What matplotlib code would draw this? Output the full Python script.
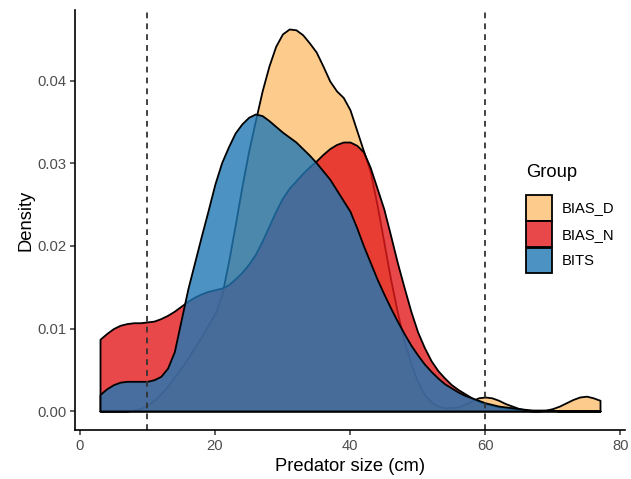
import numpy as np
import matplotlib.pyplot as plt
from matplotlib.patches import Patch
from matplotlib.colors import to_rgba

plt.rcParams['font.family'] = ['Liberation Sans', 'DejaVu Sans']

# predator size grid (cm) and densities
size_cm = list(range(3, 78))

bias_d = [0.0000, 0.0000, 0.0000, 0.0000, 0.0000, 0.0001, 0.0003, 0.0007, 0.0013, 0.0021,
          0.0030, 0.0041, 0.0052, 0.0064, 0.0077, 0.0090, 0.0104, 0.0118, 0.0140, 0.0180,
          0.0225, 0.0272, 0.0315, 0.0352, 0.0388, 0.0418, 0.0442, 0.0457, 0.0463, 0.0462,
          0.0456, 0.0446, 0.0435, 0.0418, 0.0400, 0.0388, 0.0380, 0.0365, 0.0340, 0.0315,
          0.0290, 0.0250, 0.0205, 0.0160, 0.0120, 0.0085, 0.0058, 0.0036, 0.0020, 0.0011,
          0.0006, 0.0004, 0.0004, 0.0005, 0.0008, 0.0012, 0.0016, 0.0017, 0.0016, 0.0013,
          0.0009, 0.0006, 0.0003, 0.0001, 0.0000, 0.0000, 0.0001, 0.0003, 0.0006, 0.0010,
          0.0014, 0.0017, 0.0018, 0.0016, 0.0013]

bias_n = [0.0087, 0.0094, 0.0100, 0.0104, 0.0106, 0.0107, 0.0107, 0.0108, 0.0109, 0.0112,
          0.0116, 0.0121, 0.0127, 0.0133, 0.0138, 0.0142, 0.0145, 0.0147, 0.0149, 0.0153,
          0.0160, 0.0168, 0.0178, 0.0190, 0.0206, 0.0224, 0.0242, 0.0258, 0.0270, 0.0279,
          0.0288, 0.0296, 0.0303, 0.0311, 0.0318, 0.0323, 0.0326, 0.0326, 0.0322, 0.0314,
          0.0295, 0.0270, 0.0245, 0.0213, 0.0180, 0.0150, 0.0121, 0.0096, 0.0077, 0.0061,
          0.0049, 0.0040, 0.0032, 0.0026, 0.0021, 0.0016, 0.0012, 0.0009, 0.0007, 0.0005,
          0.0004, 0.0003, 0.0002, 0.0001, 0.0001, 0.0001, 0.0001, 0.0001, 0.0000, 0.0000,
          0.0000, 0.0000, 0.0000, 0.0000, 0.0000]

bits = [0.0020, 0.0027, 0.0032, 0.0035, 0.0036, 0.0036, 0.0036, 0.0036, 0.0038, 0.0042,
        0.0052, 0.0072, 0.0110, 0.0148, 0.0180, 0.0212, 0.0243, 0.0275, 0.0301, 0.0320,
        0.0337, 0.0348, 0.0356, 0.0360, 0.0358, 0.0352, 0.0345, 0.0338, 0.0332, 0.0326,
        0.0318, 0.0310, 0.0301, 0.0291, 0.0281, 0.0268, 0.0255, 0.0242, 0.0222, 0.0200,
        0.0180, 0.0160, 0.0142, 0.0125, 0.0109, 0.0094, 0.0080, 0.0068, 0.0057, 0.0048,
        0.0040, 0.0033, 0.0028, 0.0023, 0.0019, 0.0016, 0.0013, 0.0010, 0.0008, 0.0006,
        0.0005, 0.0004, 0.0003, 0.0002, 0.0001, 0.0001, 0.0001, 0.0001, 0.0000, 0.0000,
        0.0000, 0.0000, 0.0000, 0.0000, 0.0000]

groups = ['BIAS_D', 'BIAS_N', 'BITS']
colors = ['#FDBF6F', '#E31A1C', '#1F78B4']
cutoffs = [10, 60]

fig = plt.figure(figsize=(6.31, 4.79), dpi=100)
ax = fig.add_axes([75/631, 1 - 430/479, 550/631, 420/479])

for name, dens, col in zip(groups, [bias_d, bias_n, bits], colors):
    ax.fill_between(size_cm, dens, 0, facecolor=to_rgba(col, 0.8),
                    edgecolor='black', linewidth=1.3, joinstyle='round')

for c in cutoffs:
    ax.axvline(c, color='#333333', linewidth=1.3, linestyle=(0, (3.2, 2.8)))

ax.set_xlim(-0.7, 80.7)
ax.set_ylim(-0.0023, 0.0486)
ax.set_xticks([0, 20, 40, 60, 80])
ax.set_yticks([0.00, 0.01, 0.02, 0.03, 0.04])
ax.set_yticklabels(['0.00', '0.01', '0.02', '0.03', '0.04'])

for s in ['top', 'right']:
    ax.spines[s].set_visible(False)
for s in ['left', 'bottom']:
    ax.spines[s].set_linewidth(1.2)
    ax.spines[s].set_color('black')
ax.tick_params(length=3.3, width=1.1, color='#333333', labelcolor='#4D4D4D',
               labelsize=10.6, pad=3)

ax.set_xlabel('Predator size (cm)', fontsize=13.2, color='black', labelpad=4)
ax.set_ylabel('Density', fontsize=13.2, color='black', labelpad=2)

handles = [Patch(facecolor=to_rgba(c, 0.8), edgecolor='black', linewidth=1.3) for c in colors]
leg = ax.legend(handles, groups, title='Group', loc='upper left',
                bbox_to_anchor=(526/631, 1 - 164/479), bbox_transform=fig.transFigure,
                frameon=False, fontsize=10.6, title_fontsize=13.2,
                handlelength=1.75, handleheight=2.3, labelspacing=0.05,
                handletextpad=0.65, borderpad=0, borderaxespad=0, alignment='left')
leg._legend_box.sep = 10

fig.savefig('out.png', dpi=100)
